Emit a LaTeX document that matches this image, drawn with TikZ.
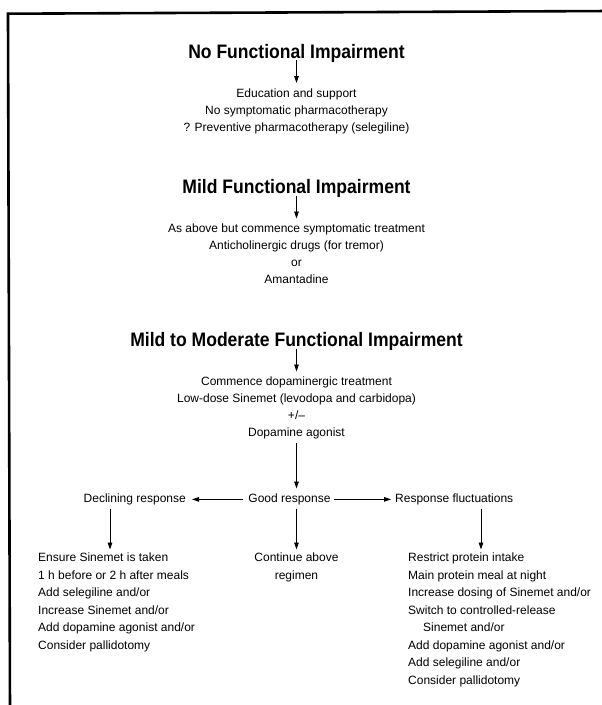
\documentclass[tikz,border=0pt]{standalone}
\usepackage{fontspec}
\setmainfont{Liberation Sans}
\newfontfamily\ttlfam[FakeStretch=0.9]{Liberation Sans}
\usetikzlibrary{arrows.meta}
\newcommand{\bodyfnt}{\fontsize{12}{17}\selectfont}
\newcommand{\ttlfnt}{\ttlfam\bfseries\fontsize{19.5}{22}\selectfont}
\tikzset{
  body/.style={font=\bodyfnt, inner sep=0pt, text height=8.8pt, text depth=2.5pt, anchor=base},
  ttl/.style={font=\ttlfnt, inner sep=0pt, text height=14pt, text depth=2pt, anchor=base},
  arr/.style={-{Triangle[length=7pt,width=4.6pt]}, line width=0.9pt},
  frameline/.style={line width=2.6pt, line join=miter}
}
\begin{document}
\begin{tikzpicture}[x=1pt,y=-1pt]
\useasboundingbox (0,0) rectangle (602,705);
% frame
\draw[frameline] (10,712) -- (8,13.7) -- (610,11);
% block 1
\node[ttl]  (t1) at (296.5,58) {No Functional Impairment};
\node[body] (a1) at (296.5,97) {Education and support};
\node[body] (a2) at (296.5,114) {No symptomatic pharmacotherapy};
\node[body] (a3) at (296.5,131) {? Preventive pharmacotherapy (selegiline)};
\draw[arr, shorten >=5pt] (t1) -- (a1);
% block 2
\node[ttl]  (t2) at (296.5,193.5) {Mild Functional Impairment};
\node[body] (b1) at (296.5,232.5) {As above but commence symptomatic treatment};
\node[body] (b2) at (296.5,249.5) {Anticholinergic drugs (for tremor)};
\node[body] (b3) at (296.5,266.5) {or};
\node[body] (b4) at (296.5,283.5) {Amantadine};
\draw[arr, shorten >=5pt] (t2) -- (b1);
% block 3
\node[ttl]  (t3) at (296.5,346.5) {Mild to Moderate Functional Impairment};
\node[body] (c1) at (296.5,385.5) {Commence dopaminergic treatment};
\node[body] (c2) at (296.5,402.5) {Low-dose Sinemet (levodopa and carbidopa)};
\node[body] (c3) at (296.5,419.5) {+/\textendash};
\node[body] (c4) at (296.5,436.5) {Dopamine agonist};
\draw[arr, shorten >=5pt] (t3) -- (c1);
% response row
\node[body, anchor=base east] (decl) at (186,502.5) {Declining response};
\node[body] (good) at (289.5,502.5) {Good response};
\node[body, anchor=base west] (fluct) at (395,502.5) {Response fluctuations};
\draw[arr, shorten <=4pt, shorten >=5pt] (c4) -- (c4 |- good.north);
\draw[arr, shorten <=5pt, shorten >=6pt] (good) -- (decl);
\draw[arr, shorten <=3pt, shorten >=4pt] (good) -- (fluct);
% outcomes
\node[body] (d1) at (296.5,561.5) {Continue above};
\node[body] (d2) at (296.5,579) {regimen};
\node[body, anchor=base west] (e1) at (38,561.5) {Ensure Sinemet is taken};
\node[body, anchor=base west] (e2) at (38,579) {1 h before or 2 h after meals};
\node[body, anchor=base west] (e3) at (38,596.5) {Add selegiline and/or};
\node[body, anchor=base west] (e4) at (38,614) {Increase Sinemet and/or};
\node[body, anchor=base west] (e5) at (38,631.5) {Add dopamine agonist and/or};
\node[body, anchor=base west] (e6) at (38,649) {Consider pallidotomy};
\node[body, anchor=base west] (f1) at (408,561.5) {Restrict protein intake};
\node[body, anchor=base west] (f2) at (408,579) {Main protein meal at night};
\node[body, anchor=base west] (f3) at (408,596.5) {Increase dosing of Sinemet and/or};
\node[body, anchor=base west] (f4) at (408,614) {Switch to controlled-release};
\node[body, anchor=base west] (f5) at (423,631.5) {Sinemet and/or};
\node[body, anchor=base west] (f6) at (408,649) {Add dopamine agonist and/or};
\node[body, anchor=base west] (f7) at (408,666.5) {Add selegiline and/or};
\node[body, anchor=base west] (f8) at (408,684) {Consider pallidotomy};
\coordinate (lx) at (110,0);
\coordinate (rx) at (481,0);
\draw[arr, shorten <=3.5pt, shorten >=3pt] (decl.south -| lx) -- (e1.north -| lx);
\draw[arr, shorten <=3.5pt, shorten >=3pt] (c4 |- good.south) -- (d1);
\draw[arr, shorten <=3.5pt, shorten >=3pt] (fluct.south -| rx) -- (f1.north -| rx);
\end{tikzpicture}
\end{document}
